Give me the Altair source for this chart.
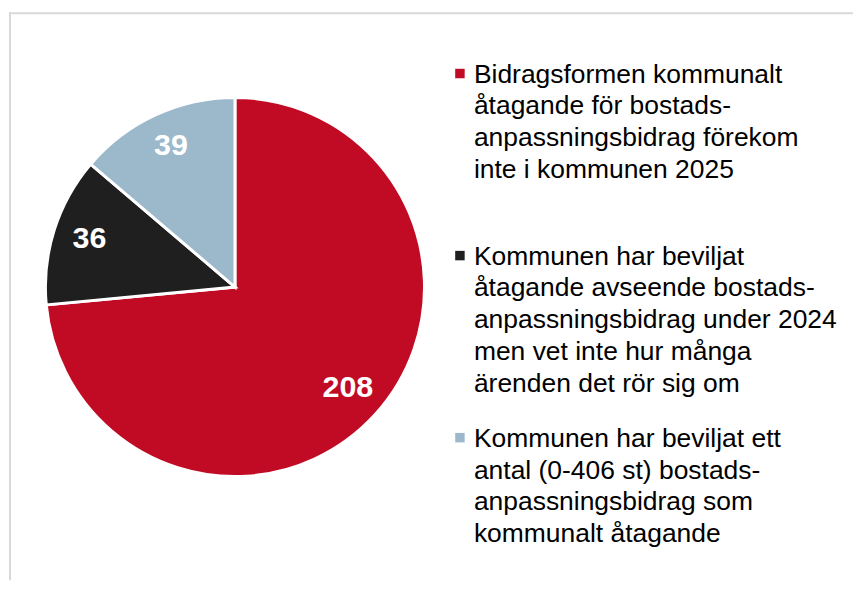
import altair as alt
import pandas as pd

# ---- data ----
legend_lines = [
    ["Bidragsformen kommunalt", "åtagande för bostads-", "anpassningsbidrag förekom", "inte i kommunen 2025"],
    ["Kommunen har beviljat", "åtagande avseende bostads-", "anpassningsbidrag under 2024",
     "men vet inte hur många", "ärenden det rör sig om"],
    ["Kommunen har beviljat ett", "antal (0-406 st) bostads-", "anpassningsbidrag som", "kommunalt åtagande"],
]
categories = [" ".join(l) for l in legend_lines]
values = [208, 36, 39]
slice_order = [0, 1, 2]
colors = ["#c10b25", "#1f1f1f", "#9cb9cc"]

df = pd.DataFrame({
    "category": categories,
    "value": values,
    "order": slice_order,
    "legend": ["\n".join(l) for l in legend_lines],
})

FONT = "Liberation Sans"
CX, CY = 226.5, 279

color = alt.Color("category:N", scale=alt.Scale(domain=categories, range=colors), legend=None)
theta = alt.Theta("value:Q", stack=True)
order = alt.Order("order:Q")

base = alt.Chart(df)

pie = base.mark_arc(radius=190, stroke="white", strokeWidth=3).encode(
    theta=theta, order=order, color=color, x=alt.value(CX), y=alt.value(CY)
)

labels = base.mark_text(
    radius=153, font=FONT, fontSize=30.5, fontWeight="bold", color="white",
    align="center", baseline="middle"
).encode(theta=theta, order=order, text="value:Q", x=alt.value(CX), y=alt.value(CY - 2))

ypos = alt.Y("category:N", sort=categories, axis=None,
             scale=alt.Scale(type="point", range=[74, 439], padding=0))

legend_text = base.mark_text(
    align="left", baseline="alphabetic", lineBreak="\n", lineHeight=32,
    fontSize=26.5, font=FONT, color="#000000"
).encode(x=alt.value(466), y=ypos, text="legend:N")

legend_sq = base.mark_square(size=90, yOffset=-9, opacity=1).encode(
    x=alt.value(452), y=ypos, color=color
)

one = pd.DataFrame({"a": [0]})
top_rule = alt.Chart(one).mark_rule(color="#d9d9d9", strokeWidth=2).encode(
    x=alt.value(0), x2=alt.value(846), y=alt.value(4.5)
)
left_rule = alt.Chart(one).mark_rule(color="#d9d9d9", strokeWidth=2).encode(
    x=alt.value(1), y=alt.value(3.5), y2=alt.value(573)
)

chart = alt.layer(top_rule, left_rule, pie, labels, legend_sq, legend_text).properties(
    width=846, height=573, padding=0, background="white"
).configure_view(stroke=None)

chart.save("out.html", embed_options={"renderer": "svg", "actions": False})
